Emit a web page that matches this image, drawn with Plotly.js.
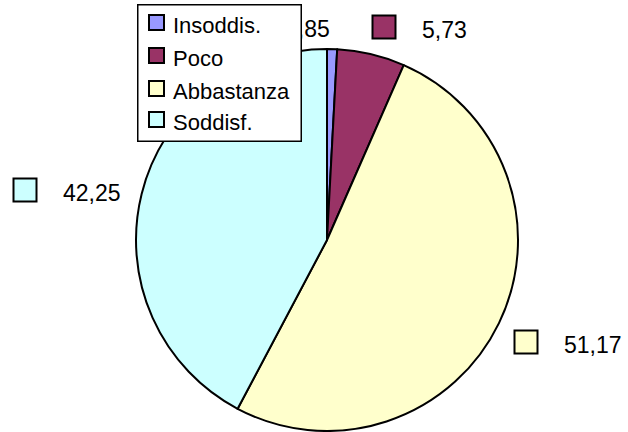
<!DOCTYPE html>
<html>
<head>
<meta charset="utf-8">
<script src="https://cdn.plot.ly/plotly-3.0.1.min.js"></script>
<style>html,body{margin:0;padding:0;background:#fff;}#chart{width:628px;height:432px;}</style>
</head>
<body>
<div id="chart"></div>
<script>
const labels = ['Insoddis.', 'Poco', 'Abbastanza', 'Soddisf.'];
const values = [0.85, 5.73, 51.17, 42.25];
const colors = ['#9999FF', '#993366', '#FFFFCC', '#CCFFFF'];

const W = 628, H = 432;
const FONT = 'Liberation Sans, Arial, sans-serif';
// data-label square centres (pixels)
const labelPos = [[247, 26], [384, 27], [526, 342], [25, 190]];
const SQ = 23;
// legend box geometry (pixels)
const LEG = {x0: 137, y0: 4, x1: 302, y1: 142, swX: 156.5, rowY: [22, 55, 88, 119], textX: 171};

const px = x => x / W;
const py = y => 1 - y / H;

const shapes = [];
const annotations = [];
// data labels
labels.forEach((l, i) => {
  const [cx, cy] = labelPos[i];
  shapes.push({
    type: 'rect', xref: 'paper', yref: 'paper',
    x0: px(cx - SQ / 2), x1: px(cx + SQ / 2),
    y0: py(cy + SQ / 2), y1: py(cy - SQ / 2),
    fillcolor: colors[i], line: {color: '#000', width: 2}
  });
  annotations.push({
    xref: 'paper', yref: 'paper',
    x: px(cx + 36), y: py(cy + 3),
    xanchor: 'left', yanchor: 'middle',
    text: values[i].toFixed(2).replace('.', ','),
    showarrow: false,
    font: {family: FONT, size: 23, color: '#000'}
  });
});
// legend box (drawn above data labels)
annotations.push({
  xref: 'paper', yref: 'paper',
  x: px(LEG.x0), y: py(LEG.y0), xanchor: 'left', yanchor: 'top',
  text: ' ', showarrow: false,
  width: LEG.x1 - LEG.x0 - 3, height: LEG.y1 - LEG.y0 - 3, borderpad: 0,
  bgcolor: '#fff', bordercolor: '#000', borderwidth: 1.5
});
labels.forEach((l, i) => {
  const ry = LEG.rowY[i];
  annotations.push({
    xref: 'paper', yref: 'paper',
    x: px(LEG.swX), y: py(ry), xanchor: 'center', yanchor: 'middle',
    text: ' ', showarrow: false,
    width: 13, height: 13, borderpad: 0,
    bgcolor: colors[i], bordercolor: '#000', borderwidth: 2,
    font: {size: 4}
  });
  annotations.push({
    xref: 'paper', yref: 'paper',
    x: px(LEG.textX), y: py(ry + 3.5), xanchor: 'left', yanchor: 'middle',
    text: l, showarrow: false,
    font: {family: FONT, size: 22, color: '#000'}
  });
});

const cx = 327, cy = 240, R = 191;
const data = [{
  type: 'pie',
  labels: labels,
  values: values,
  sort: false,
  direction: 'clockwise',
  rotation: 0,
  textinfo: 'none',
  hoverinfo: 'none',
  marker: {colors: colors, line: {color: '#000', width: 2}},
  domain: {x: [px(cx - R), px(cx + R)], y: [py(cy + R), py(cy - R)]}
}];

const layout = {
  width: W, height: H,
  margin: {l: 0, r: 0, t: 0, b: 0},
  paper_bgcolor: '#fff',
  showlegend: false,
  shapes: shapes,
  annotations: annotations
};

Plotly.newPlot('chart', data, layout, {displayModeBar: false, staticPlot: true});
</script>
</body>
</html>
